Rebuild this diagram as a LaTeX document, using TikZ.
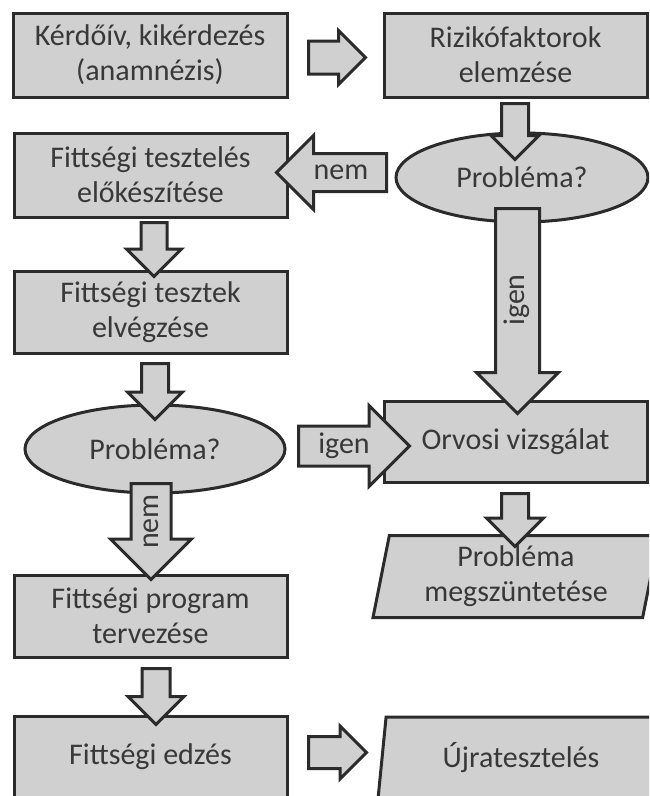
\documentclass[tikz,border=0pt]{standalone}
\usepackage{fontspec}
\setmainfont{Carlito}
\usetikzlibrary{shapes.geometric,shapes.arrows}

\definecolor{flowfill}{HTML}{D0D0D0}
\definecolor{flowline}{HTML}{2B2B2B}
\definecolor{flowtext}{HTML}{383838}

\begin{document}
\begin{tikzpicture}[x=1pt, y=-1pt]
        \tikzstyle{flow_base} = [draw = flowline, fill = flowfill, line width=3pt, text = flowtext, font=\fontsize{30}{35}\selectfont, inner sep=0pt, align=center]
        \tikzstyle{flow_box} = [flow_base, shape = rectangle, minimum width=273pt, minimum height=84pt]
        \tikzstyle{flow_test} = [flow_base, shape = ellipse]
        \tikzstyle{flow_io} = [flow_base, shape = trapezium, trapezium left angle=75, trapezium right angle=105, trapezium stretches body, minimum width=286pt, minimum height=82pt]
        \tikzset{fat_arrow/.style n args={3}{flow_base, single arrow, anchor=tail,
            single arrow head extend={(#2-#1)/2*1pt}, minimum height=#3pt,
            text height={(#1/2+7)*1pt}, text depth={(#1/2-7)*1pt}}}

        \useasboundingbox (0, 0) rectangle (649, 796);
        \clip (0, 0) rectangle (649, 796);

        \node[flow_box, minimum width=274pt] at (150, 55) (q1) {Kérdőív, kikérdezés\\(anamnézis)};

        \node[flow_box, minimum width=263pt] at (515.5, 55) (rf) {Rizikófaktorok\\elemzése};

        \node[flow_test, minimum width=252pt, minimum height=89pt] at (522, 177.5) (pr1) {Probléma?};

        \node[flow_box] at (150.5, 175) (t1) {Fittségi tesztelés\\előkészítése};

        \node[flow_box, minimum height=82pt] at (150.5, 312) (t2) {Fittségi tesztek\\elvégzése};

        \node[flow_test, minimum width=260pt, minimum height=88pt] at (155, 449) (pr2) {Probléma?};

        \node[flow_box, minimum width=263pt, minimum height=81pt] at (515.5, 441.5) (ov) {Orvosi vizsgálat};

        \node[flow_io] at (516, 576.5) (pm) {Probléma\\megszüntetése};

        \node[flow_box, minimum height=82pt] at (150.5, 616) (fp) {Fittségi program\\tervezése};

        \node[flow_box, minimum height=82pt] at (150.5, 757) (fe) {Fittségi edzés};

        \node[flow_io] at (521, 758) (uj) {Újratesztelés};

        \node[fat_arrow={30}{51}{57}] at (307, 57.5) (q1_rf) {};
        \node[fat_arrow={24}{45}{56}, rotate=90, shape border rotate=180] at (515, 102) (rf_pr1) {};
        \node[fat_arrow={35}{71}{110}, shape border rotate=180] at (388, 172.5) (pr1_t1) {nem};
        \node[fat_arrow={41}{79}{205}, rotate=90, shape border rotate=180] at (517.5, 207) (pr1_ov) {igen};
        \node[fat_arrow={23}{52}{54}, rotate=90, shape border rotate=180] at (154, 221) (t1_t2) {};
        \node[fat_arrow={24}{52}{56}, rotate=90, shape border rotate=180] at (155, 362) (t2_pr2) {};
        \node[fat_arrow={37}{78}{111}] at (297, 446) (pr2_ov) {igen};
        \node[fat_arrow={37}{78}{96}, rotate=90, shape border rotate=180] at (151, 482) (pr2_fp) {nem};
        \node[fat_arrow={24}{54}{53}, rotate=90, shape border rotate=180] at (515, 492) (ov_pm) {};
        \node[fat_arrow={25}{53}{56}, rotate=90, shape border rotate=180] at (156, 667) (fp_fe) {};
        \node[fat_arrow={29}{50}{58}] at (307, 752.5) (fe_uj) {};
      \end{tikzpicture}
\end{document}
